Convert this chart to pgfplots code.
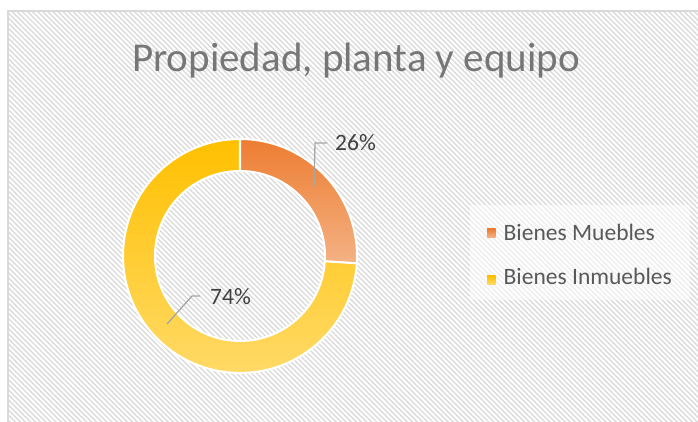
\documentclass[border=0pt]{standalone}
\usepackage{pgfplots}
\pgfplotsset{compat=1.18}
\usepackage{pgfplotstable}
\usepackage{fontspec}
\setmainfont{Carlito}
\usetikzlibrary{calc,patterns.meta}

\definecolor{orA}{RGB}{237,125,49}
\definecolor{orB}{RGB}{244,178,132}
\definecolor{yeA}{RGB}{255,192,0}
\definecolor{yeB}{RGB}{255,218,104}
\definecolor{titlegray}{RGB}{118,118,118}
\definecolor{txtgray}{RGB}{64,64,64}
\definecolor{leggray}{RGB}{89,89,89}
\definecolor{leadgray}{RGB}{166,166,166}
\definecolor{framegray}{RGB}{217,217,217}

% share of each class
\pgfplotstableread{
label value
{Bienes Muebles} 26
{Bienes Inmuebles} 74
}\datatable

\begin{document}
\begin{tikzpicture}[x=1pt,y=1pt]
\pgfplotstablegetelem{0}{value}\of\datatable \edef\vA{\pgfplotsretval}
\pgfplotstablegetelem{1}{value}\of\datatable \edef\vB{\pgfplotsretval}
\pgfmathsetmacro\tot{\vA+\vB}
\pgfmathsetmacro\aS{90}
\pgfmathsetmacro\aM{90-\vA/\tot*360}
\pgfmathsetmacro\aE{\aM-\vB/\tot*360}
\def\rout{117pt}
\def\rin{85pt}

\clip (0,0) rectangle (698,422);
\path[use as bounding box] (0,0) rectangle (698,422);

% chart area: hatched background and frame
\fill[white] (0,0) rectangle (698,422);
\fill[pattern={Lines[angle=-45,distance=3.6pt,line width=1.4pt]},pattern color=black!14]
  (8,-10) rectangle (710,411);
\draw[framegray,line width=1.5pt] (8,-10) -- (8,411) -- (710,411);

% title
\node[anchor=base,inner sep=0,text=titlegray,font=\fontsize{41}{48}\selectfont]
  at (356,350) {Propiedad, planta y equipo};

\begin{axis}[
    x=117pt, y=117pt,
    xmin=-1.1, xmax=1.1, ymin=-1.1, ymax=1.1,
    hide axis,
    anchor=origin, at={(240pt,166pt)},
    clip=false
]
    \path (axis cs:0,0) coordinate (c);
    % Bienes Muebles
    \shadedraw[top color=orA,bottom color=orB,draw=white,line width=2pt]
      ($(c)+(\aS:\rout)$) arc[start angle=\aS,end angle=\aM,radius=\rout]
      -- ($(c)+(\aM:\rin)$) arc[start angle=\aM,end angle=\aS,radius=\rin] -- cycle;
    % Bienes Inmuebles
    \shadedraw[top color=yeA,bottom color=yeB,draw=white,line width=2pt]
      ($(c)+(\aM:\rout)$) arc[start angle=\aM,end angle=\aE,radius=\rout]
      -- ($(c)+(\aE:\rin)$) arc[start angle=\aE,end angle=\aM,radius=\rin] -- cycle;
\end{axis}

% data labels with leader lines
\draw[leadgray,line width=1.3pt] (314,235) -- (315,279) -- (327,279);
\node[anchor=base west,inner sep=0,text=txtgray,font=\fontsize{23.5}{28}\selectfont]
  at (335,271.5) {\vA\%};
\draw[leadgray,line width=1.3pt] (167,98) -- (192,126) -- (200,126);
\node[anchor=base west,inner sep=0,text=txtgray,font=\fontsize{23.5}{28}\selectfont]
  at (210,117.5) {\vB\%};

% legend
\fill[white,fill opacity=0.55] (470,122) rectangle (690,217);
\shade[top color=orA,bottom color=orB] (487,184.5) rectangle (495.5,193);
\node[anchor=base west,inner sep=0,text=leggray,font=\fontsize{23.5}{28}\selectfont]
  at (503.5,181.5) {Bienes Muebles};
\shade[top color=yeA,bottom color=yeB] (487,137.5) rectangle (495.5,146);
\node[anchor=base west,inner sep=0,text=leggray,font=\fontsize{23.5}{28}\selectfont]
  at (503.5,137) {Bienes Inmuebles};
\end{tikzpicture}
\end{document}
